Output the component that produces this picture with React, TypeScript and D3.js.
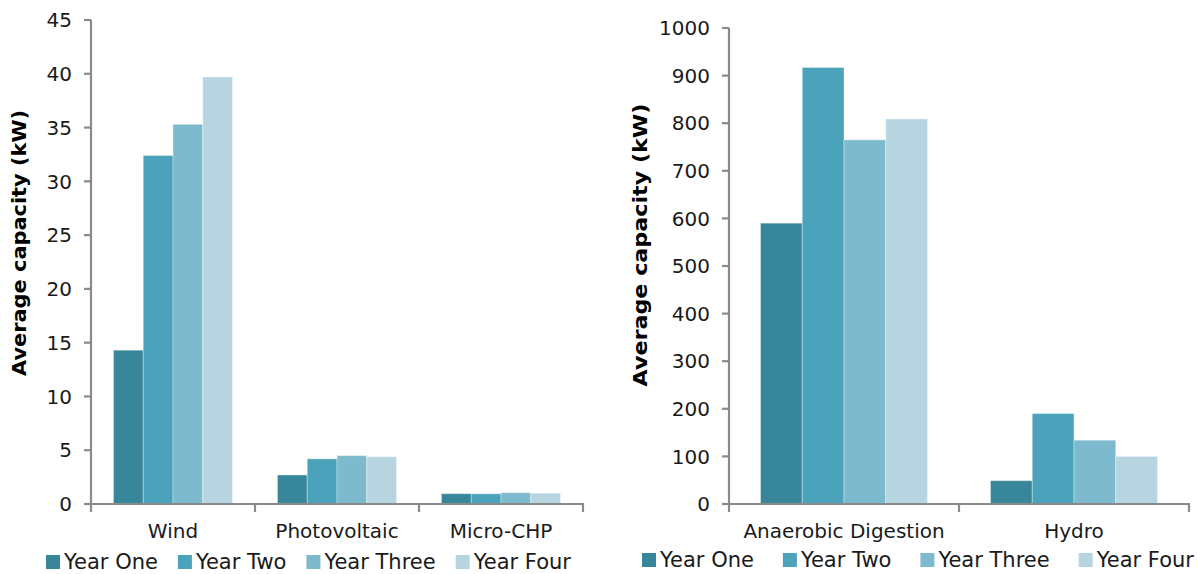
import React from "react";
import * as d3 from "d3";

const seriesNames = ["Year One", "Year Two", "Year Three", "Year Four"];
const seriesColors = ["#38869A", "#4AA3BA", "#7EBACE", "#B7D5E0"];

const leftCategories = ["Wind", "Photovoltaic", "Micro-CHP"];
const leftYearOne = [14.3, 2.7, 0.96];
const leftYearTwo = [32.4, 4.2, 0.95];
const leftYearThree = [35.3, 4.5, 1.05];
const leftYearFour = [39.7, 4.4, 1.0];
const leftTicks = [0, 5, 10, 15, 20, 25, 30, 35, 40, 45];

const rightCategories = ["Anaerobic Digestion", "Hydro"];
const rightYearOne = [590, 49];
const rightYearTwo = [917, 190];
const rightYearThree = [765, 134];
const rightYearFour = [809, 100];
const rightTicks = [0, 100, 200, 300, 400, 500, 600, 700, 800, 900, 1000];

const FONT = "DejaVu Sans, Verdana, sans-serif";

function measure(text: string, font: string): number {
  const c = document.createElement("canvas");
  const ctx = c.getContext("2d");
  if (!ctx) return text.length * 11;
  ctx.font = font;
  return ctx.measureText(text).width;
}

type PanelProps = {
  categories: string[];
  series: number[][];
  ticks: number[];
  yMax: number;
  x0: number;
  x1: number;
  yTop: number;
  yBottom: number;
  titleX: number;
  titleY: number;
  titleSize: number;
  titleLength: number;
  legendX: number;
  legendY: number;
  legendGap: number;
};

function Panel(p: PanelProps) {
  const x = d3.scaleBand<string>().domain(p.categories).range([p.x0, p.x1]).paddingInner(0).paddingOuter(0);
  const y = d3.scaleLinear().domain([0, p.yMax]).range([p.yBottom, p.yTop]);
  const bw = x.bandwidth();
  const pad = bw * 0.137;
  const xi = d3.scaleBand<string>().domain(seriesNames).range([pad, bw - pad]).padding(0);
  const axisColor = "#8a8a8a";

  const legendSize = 21;
  const legendFont = `${legendSize}px DejaVu Sans`;
  let lx = p.legendX;
  const legendItems = seriesNames.map((name, i) => {
    const item = { name, x: lx, color: seriesColors[i] };
    lx += 18 + measure(name, legendFont) + p.legendGap;
    return item;
  });

  const boundaries = [...p.categories.map((c) => x(c) as number), p.x1];

  return (
    <g>
      {p.categories.map((c, ci) => (
        <g key={c} transform={`translate(${x(c)},0)`}>
          {p.series.map((vals, si) => (
            <rect
              key={si}
              x={xi(seriesNames[si])}
              y={y(vals[ci])}
              width={xi.bandwidth()}
              height={y(0) - y(vals[ci])}
              fill={seriesColors[si]}
              stroke="rgba(255,255,255,0.35)"
              strokeWidth={1}
            />
          ))}
        </g>
      ))}
      <line x1={p.x0} x2={p.x0} y1={p.yTop} y2={p.yBottom} stroke={axisColor} strokeWidth={2.2} />
      {p.ticks.map((t) => (
        <g key={t}>
          <line x1={p.x0 - 7} x2={p.x0} y1={y(t)} y2={y(t)} stroke={axisColor} strokeWidth={2.2} />
          <text x={p.x0 - 19} y={y(t)} dy="0.36em" textAnchor="end" fontFamily={FONT} fontSize={20} fill="#1a1a1a">
            {t}
          </text>
        </g>
      ))}
      <line x1={p.x0 - 1} x2={p.x1 + 1} y1={p.yBottom} y2={p.yBottom} stroke={axisColor} strokeWidth={2.2} />
      {boundaries.map((b, i) => (
        <line key={i} x1={b} x2={b} y1={p.yBottom} y2={p.yBottom + 8} stroke={axisColor} strokeWidth={2.2} />
      ))}
      {p.categories.map((c) => (
        <text key={c} x={(x(c) as number) + bw / 2} y={538} textAnchor="middle" fontFamily={FONT} fontSize={20} fill="#1a1a1a">
          {c}
        </text>
      ))}
      <text
        transform={`translate(${p.titleX},${p.titleY}) rotate(-90)`}
        textAnchor="middle"
        fontFamily={FONT}
        fontWeight="bold"
        fontSize={p.titleSize}
        textLength={p.titleLength}
        lengthAdjust="spacingAndGlyphs"
        fill="#000"
      >
        Average capacity (kW)
      </text>
      {legendItems.map((it) => (
        <g key={it.name}>
          <rect x={it.x} y={p.legendY - 14} width={14} height={14} fill={it.color} />
          <text x={it.x + 18} y={p.legendY} fontFamily={FONT} fontSize={legendSize} fill="#1a1a1a">
            {it.name}
          </text>
        </g>
      ))}
    </g>
  );
}

export default function App() {
  return (
    <svg width={1197} height={574} style={{ position: "absolute", left: 0, top: 0, background: "#fff" }}>
      <rect width={1197} height={574} fill="#fff" />
      <Panel
        categories={leftCategories}
        series={[leftYearOne, leftYearTwo, leftYearThree, leftYearFour]}
        ticks={leftTicks}
        yMax={45}
        x0={91}
        x1={583}
        yTop={20}
        yBottom={504}
        titleX={26}
        titleY={243}
        titleSize={19.5}
        titleLength={266}
        legendX={46}
        legendY={569}
        legendGap={20}
      />
      <Panel
        categories={rightCategories}
        series={[rightYearOne, rightYearTwo, rightYearThree, rightYearFour]}
        ticks={rightTicks}
        yMax={1000}
        x0={729}
        x1={1189}
        yTop={28}
        yBottom={504}
        titleX={647}
        titleY={245}
        titleSize={20}
        titleLength={283}
        legendX={642}
        legendY={567}
        legendGap={29}
      />
    </svg>
  );
}
